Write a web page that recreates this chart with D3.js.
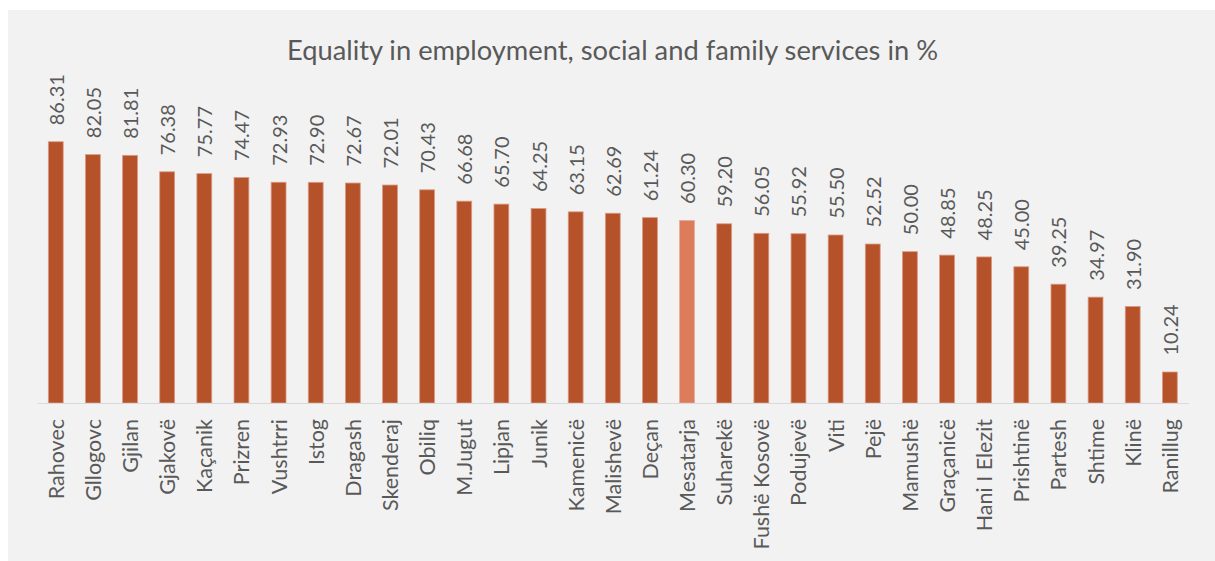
<!DOCTYPE html>
<html>
<head>
<meta charset="utf-8">
<script src="https://cdn.jsdelivr.net/npm/d3@7"></script>
<style>
  html, body { margin: 0; padding: 0; background: #ffffff; }
  svg { display: block; }
</style>
</head>
<body>
<svg id="chart" width="1215" height="561"></svg>
<script>
// Municipalities, ordered from highest to lowest score
const categories = [
  "Rahovec", "Gllogovc", "Gjilan", "Gjakovë", "Kaçanik", "Prizren", "Vushtrri",
  "Istog", "Dragash", "Skenderaj", "Obiliq", "M.Jugut", "Lipjan", "Junik",
  "Kamenicë", "Malishevë", "Deçan", "Mesatarja", "Suharekë", "Fushë Kosovë",
  "Podujevë", "Viti", "Pejë", "Mamushë", "Graçanicë", "Hani I Elezit",
  "Prishtinë", "Partesh", "Shtime", "Klinë", "Ranillug"
];
const values = [
  86.31, 82.05, 81.81, 76.38, 75.77, 74.47, 72.93,
  72.90, 72.67, 72.01, 70.43, 66.68, 65.70, 64.25,
  63.15, 62.69, 61.24, 60.30, 59.20, 56.05,
  55.92, 55.50, 52.52, 50.00, 48.85, 48.25,
  45.00, 39.25, 34.97, 31.90, 10.24
];
const highlighted = ["Mesatarja"];
const title = "Equality in employment, social and family services in %";

const data = categories.map((c, i) => ({ name: c, value: values[i] }));

const svg = d3.select("#chart");
const font = "Lato, 'Open Sans', sans-serif";
const textColor = "#595959";

// Chart panel background
svg.append("rect")
  .attr("x", 8).attr("y", 10)
  .attr("width", 1207).attr("height", 551)
  .attr("fill", "#f2f2f2");

const x = d3.scaleBand()
  .domain(categories)
  .range([37.2, 1188.4])
  .paddingInner(0.6)
  .paddingOuter(0.3);

const y = d3.scaleLinear()
  .domain([0, 100])
  .range([403, 100.3]);

// Title
svg.append("text")
  .attr("x", 612.5).attr("y", 59.5)
  .attr("text-anchor", "middle")
  .attr("font-family", font)
  .attr("font-size", 27.3)
  .attr("fill", textColor)
  .text(title);

// Bars
svg.append("g")
  .selectAll("rect")
  .data(data)
  .join("rect")
  .attr("x", d => x(d.name))
  .attr("y", d => y(d.value))
  .attr("width", x.bandwidth())
  .attr("height", d => y(0) - y(d.value))
  .attr("fill", d => highlighted.includes(d.name) ? "#dd7c5a" : "#b5522a")
  .attr("stroke", d => highlighted.includes(d.name) ? "#eaa98f" : "#dc9a80")
  .attr("stroke-width", 0.8);

// Category axis
const xAxis = svg.append("g")
  .attr("transform", `translate(0,${y(0)})`)
  .call(d3.axisBottom(x).tickSize(0).tickPadding(0));
xAxis.select(".domain")
  .attr("stroke", "#d9d9d9")
  .attr("stroke-width", 1.2);
xAxis.selectAll(".tick text")
  .attr("font-family", font)
  .attr("font-size", 21.5)
  .attr("fill", textColor)
  .attr("text-anchor", "end")
  .attr("dy", null)
  .attr("y", 0)
  .attr("transform", "translate(0,16) rotate(-90)")
  .attr("dominant-baseline", "central");

// Value labels above bars
svg.append("g")
  .selectAll("text")
  .data(data)
  .join("text")
  .attr("transform", d => `translate(${x(d.name) + x.bandwidth() / 2},${y(d.value) - 16.5}) rotate(-90)`)
  .attr("text-anchor", "start")
  .attr("dominant-baseline", "central")
  .attr("font-family", font)
  .attr("font-size", 20)
  .attr("fill", textColor)
  .text(d => d.value.toFixed(2));
</script>
</body>
</html>
